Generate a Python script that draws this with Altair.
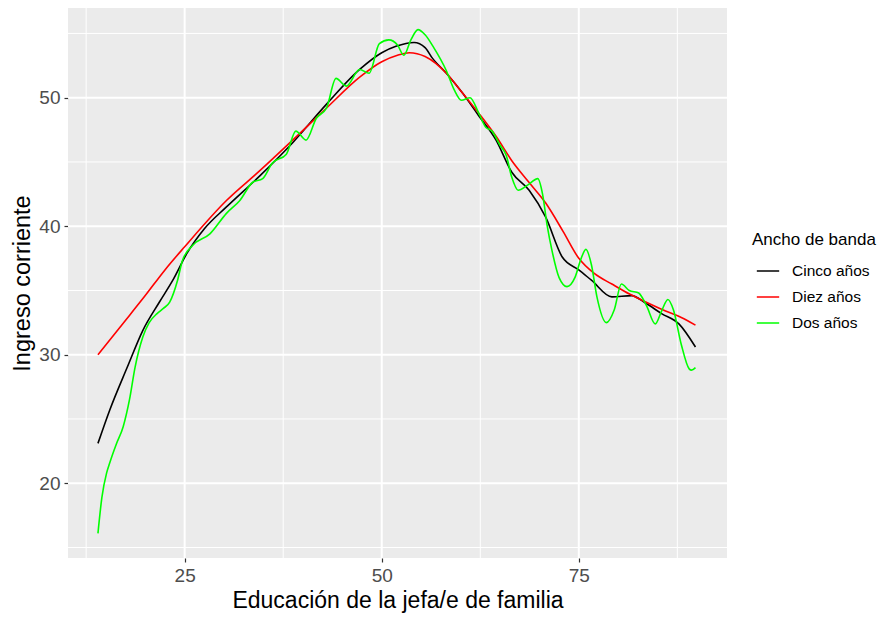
import altair as alt
import pandas as pd

# ---- data ----
diez_x = [14.0, 17.0, 20.0, 22.5, 25.0, 30.3, 34.5, 38.7, 43.0, 47.2, 50.0, 52.0, 53.5,
          55.5, 58.2, 60.2, 62.3, 64.5, 66.5, 68.7, 70.8, 73.0, 75.0, 77.0, 79.2, 81.5,
          83.5, 86.0, 88.0, 89.8]
diez_y = [30.0, 32.3, 34.6, 36.6, 38.4, 42.0, 44.3, 46.7, 49.2, 51.6, 52.8, 53.3, 53.5,
          53.2, 51.9, 50.4, 48.8, 47.0, 45.1, 43.4, 41.8, 39.6, 37.5, 36.3, 35.5, 34.7,
          34.1, 33.4, 32.9, 32.3]

cinco_x = [14.0, 15.5, 17.7, 19.7, 21.8, 23.5, 25.3, 27.5, 30.3, 34.5, 38.7, 43.0, 47.2,
           50.0, 51.8, 54.1, 55.5, 56.4, 58.2, 60.2, 62.3, 64.5, 66.5, 68.7, 70.8, 72.9,
           75.0, 76.6, 79.2, 81.7, 83.5, 85.5, 87.7, 89.8]
cinco_y = [23.1, 25.7, 29.0, 31.9, 34.1, 35.8, 37.9, 39.8, 41.5, 43.9, 46.5, 49.5, 52.2,
           53.5, 54.0, 54.3, 53.9, 53.1, 51.9, 50.4, 48.6, 46.7, 44.2, 42.8, 40.7, 37.6,
           36.6, 35.8, 34.5, 34.6, 34.0, 33.2, 32.4, 30.6]

dos_x = [14.0, 14.5, 15.1, 15.5, 16.3, 17.2, 18.0, 18.7, 19.7, 20.5, 21.5, 22.3, 23.1,
         24.1, 24.7, 26.0, 28.2, 30.3, 32.0, 33.6, 34.9, 36.1, 37.9, 39.1, 40.4, 41.7,
         43.0, 44.2, 45.5, 47.2, 48.4, 49.7, 50.9, 52.0, 52.8, 53.7, 54.6, 55.5, 56.6,
         58.2, 59.2, 60.1, 61.2, 62.3, 63.2, 64.0, 65.0, 65.8, 66.5, 67.3, 68.5, 69.8,
         70.4, 71.0, 71.6, 72.5, 73.5, 74.5, 75.3, 75.9, 76.6, 77.3, 78.5, 79.5, 80.4,
         81.4, 82.6, 83.6, 84.7, 85.5, 86.3, 87.0, 88.0, 89.0, 89.3, 89.8]
dos_y = [16.1, 18.9, 20.8, 21.6, 23.0, 24.4, 26.5, 29.0, 31.4, 32.5, 33.2, 33.6, 34.1,
         35.8, 37.3, 38.5, 39.4, 41.0, 42.0, 43.4, 43.7, 44.9, 45.6, 47.4, 46.7, 48.4,
         49.2, 51.5, 50.9, 52.2, 51.9, 54.2, 54.5, 54.1, 53.3, 54.5, 55.3, 54.9, 53.9,
         52.1, 50.6, 49.8, 50.0, 48.8, 47.7, 47.4, 46.3, 45.5, 43.8, 42.8, 43.2, 43.7,
         42.5, 40.0, 38.1, 36.0, 35.3, 36.0, 37.5, 38.2, 37.0, 34.5, 32.5, 33.5, 35.5,
         35.0, 34.8, 33.8, 32.4, 33.4, 34.3, 33.5, 30.8, 28.9, 28.8, 29.0]

series_names = ["Cinco años", "Diez años", "Dos años"]
series_colors = ["#000000", "#FF0000", "#00FF00"]

x_major = [25, 50, 75]
x_minor = [12.5, 37.5, 62.5, 87.5]
y_major = [20, 30, 40, 50]
y_minor = [15, 25, 35, 45, 55]

x_domain = [10.2, 93.8]
y_domain = [14.18, 56.98]

x_title = "Educación de la jefa/e de familia"
y_title = "Ingreso corriente"

# ---- tables ----
rows = []
for name, xs_, ys_ in [("Cinco años", cinco_x, cinco_y),
                       ("Diez años", diez_x, diez_y),
                       ("Dos años", dos_x, dos_y)]:
    for i, (a, b) in enumerate(zip(xs_, ys_)):
        rows.append({"educ": a, "ingreso": b, "banda": name, "o": i})
df = pd.DataFrame(rows)

xs = alt.Scale(domain=x_domain, nice=False, zero=False)
ys = alt.Scale(domain=y_domain, nice=False, zero=False)
x_axis = alt.Axis(title=x_title, values=x_major, grid=False, titlePadding=4,
                  titleFontSize=23)
y_axis = alt.Axis(title=y_title, values=y_major, grid=False, titlePadding=4,
                  titleFontSize=23.5)


def vgrid(vals, w):
    return alt.Chart(pd.DataFrame({"v": vals})).mark_rule(
        color="white", strokeWidth=w).encode(
        x=alt.X("v:Q", scale=xs, axis=x_axis, title=x_title))


def hgrid(vals, w):
    return alt.Chart(pd.DataFrame({"v": vals})).mark_rule(
        color="white", strokeWidth=w).encode(
        y=alt.Y("v:Q", scale=ys, axis=y_axis, title=y_title))


lines = alt.Chart(df).mark_line(strokeWidth=1.6, interpolate="monotone").encode(
    x=alt.X("educ:Q", scale=xs, axis=x_axis, title=x_title),
    y=alt.Y("ingreso:Q", scale=ys, axis=y_axis, title=y_title),
    color=alt.Color("banda:N",
                    scale=alt.Scale(domain=series_names, range=series_colors),
                    legend=alt.Legend(title="Ancho de banda", orient="none",
                                      legendX=684, legendY=224)),
    order="o:Q",
)

chart = alt.layer(
    vgrid(x_minor, 1), hgrid(y_minor, 1), vgrid(x_major, 2), hgrid(y_major, 2), lines
).properties(
    width=659, height=550,
    autosize=alt.AutoSizeParams(type="none"),
    padding={"left": 60, "top": 0, "right": 152, "bottom": 56},
).configure_view(
    fill="#EBEBEB", strokeWidth=0
).configure_axis(
    domain=False, tickColor="#333333", tickSize=4, tickWidth=1.2,
    labelColor="#4D4D4D", labelFontSize=19, labelFont="Liberation Sans",
    titleFont="Liberation Sans", titleFontWeight="normal",
    titleColor="#000000", labelPadding=4,
).configure_legend(
    titleFont="Liberation Sans", titleFontSize=17, titleFontWeight="normal",
    titleColor="#000000", labelFont="Liberation Sans", labelFontSize=15.5,
    labelColor="#000000", symbolType="stroke", symbolSize=500,
    symbolStrokeWidth=1.5, rowPadding=5, padding=0, labelOffset=12,
    symbolOffset=4, titlePadding=10,
)

chart.save("out.html", embed_options={"renderer": "svg", "actions": False})
